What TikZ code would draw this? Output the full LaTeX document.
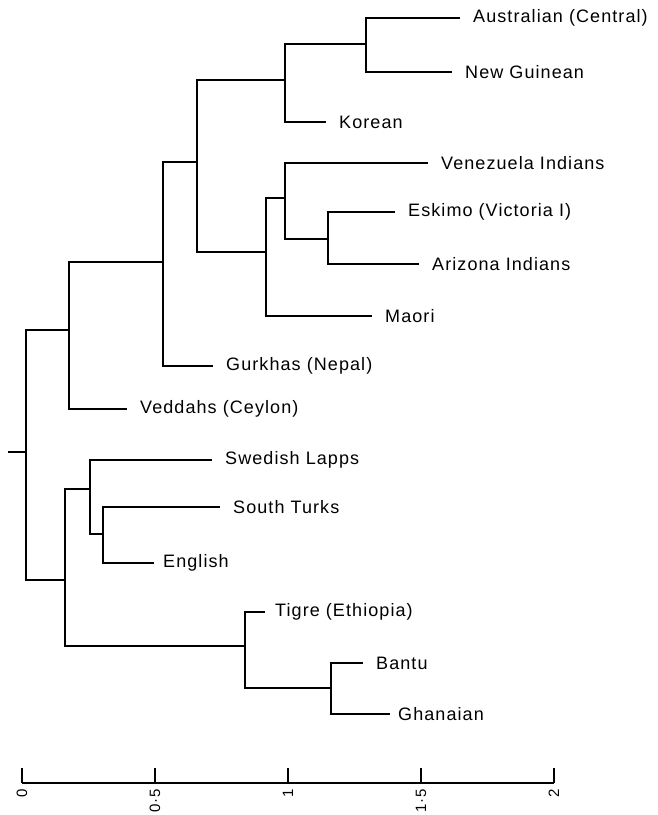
\documentclass[tikz,border=0pt]{standalone}
\usepackage{fontspec}
\setmainfont{Liberation Sans}[LetterSpace=6]
\usetikzlibrary{positioning}
\tikzstyle{branch} = [line width=2.2pt, line join=miter]
\tikzstyle{axisline} = [line width=1.6pt]
\tikzstyle{leaf} = [anchor=west, inner xsep=13pt, inner ysep=0pt, font=\fontsize{18}{20}\selectfont]
\tikzstyle{ticklab} = [rotate=90, anchor=east, inner sep=0pt, font=\fontsize{15}{18}\selectfont]

\begin{document}
\begin{tikzpicture}[x=1pt, y=-1pt]
\useasboundingbox (0,0) rectangle (658,815);

% populations
\node (aus) [leaf] at (460,18) {Australian (Central)};
\node (ng)  [leaf] at (452,72) {New Guinean};
\node (kor) [leaf] at (326,122) {Korean};
\node (ven) [leaf] at (428,163) {Venezuela Indians};
\node (esk) [leaf] at (395,212) {Eskimo (Victoria I)};
\node (ari) [leaf] at (419,264) {Arizona Indians};
\node (mao) [leaf] at (372,316) {Maori};
\node (gur) [leaf] at (213,366) {Gurkhas (Nepal)};
\node (ved) [leaf] at (127,409) {Veddahs (Ceylon)};
\node (swe) [leaf] at (212,460) {Swedish Lapps};
\node (stu) [leaf] at (220,507) {South Turks};
\node (eng) [leaf, inner xsep=9pt] at (154,563) {English};
\node (tig) [leaf, inner xsep=10pt] at (265,612) {Tigre (Ethiopia)};
\node (ban) [leaf] at (363,663) {Bantu};
\node (gha) [leaf, inner xsep=8pt] at (390,714) {Ghanaian};

% branch points
\coordinate (c1) at (366,44);
\coordinate (c2) at (285,80);
\coordinate (c3) at (328,239);
\coordinate (c4) at (285,198);
\coordinate (c5) at (266,252);
\coordinate (c6) at (197,162);
\coordinate (c7) at (163,262);
\coordinate (c8) at (69,330);
\coordinate (root) at (26,452);
\coordinate (stub) at (8,452);
\coordinate (l1) at (103,534);
\coordinate (l2) at (90,489);
\coordinate (l3) at (331,688);
\coordinate (l4) at (245,646);
\coordinate (l5) at (65,580);

\draw [branch] (aus) -| (c1) |- (ng);
\draw [branch] (c1) -| (c2) |- (kor);
\draw [branch] (esk) -| (c3) |- (ari);
\draw [branch] (ven) -| (c4) |- (c3);
\draw [branch] (c4) -| (c5) |- (mao);
\draw [branch] (c2) -| (c6) |- (c5);
\draw [branch] (c6) -| (c7) |- (gur);
\draw [branch] (c7) -| (c8) |- (ved);
\draw [branch] (c8) -| (root) |- (l5);
\draw [branch] (stub) -- (root);

\draw [branch] (stu) -| (l1) |- (eng);
\draw [branch] (swe) -| (l2) |- (l1);
\draw [branch] (ban) -| (l3) |- (gha);
\draw [branch] (tig) -| (l4) |- (l3);
\draw [branch] (l2) -| (l5) |- (l4);

% scale
\foreach \lab [count=\i from 0] in {0,0·5,1,1·5,2} {
  \coordinate (tb\i) at (22+133*\i,783);
  \coordinate (tt\i) at (22+133*\i,768);
  \node (tl\i) [ticklab] at (22+133*\i,789) {\lab};
  \draw [axisline] (tt\i) -- (tb\i);
}
\draw [axisline] (tb0) -- (tb4);
\end{tikzpicture}
\end{document}
